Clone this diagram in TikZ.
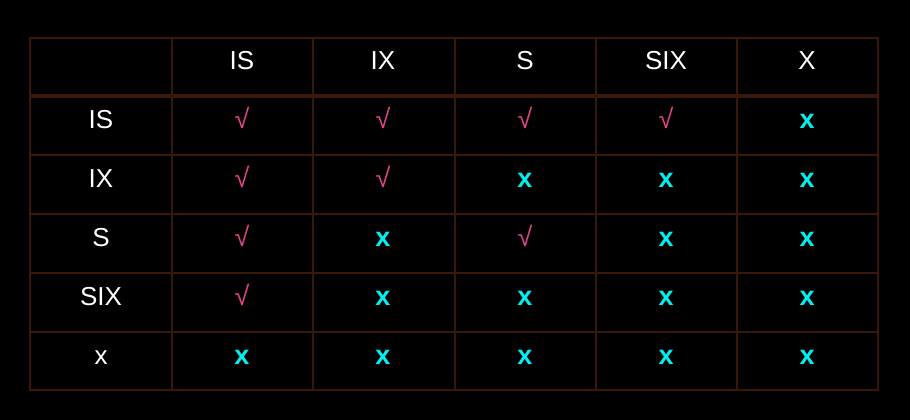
\documentclass[tikz,border=0pt]{standalone}
\usepackage{fontspec}
\setmainfont{Liberation Sans}
\begin{document}
\begin{tikzpicture}[x=1pt,y=-1pt,
  grid/.style={draw=gridc,line width=1.6pt},
  hdr/.style={text=white,font=\fontsize{26}{28}\selectfont,anchor=base,inner sep=0},
  yes/.style={text=chk,font=\fontsize{27}{29}\selectfont,anchor=base,inner sep=0},
  no/.style={text=cyan,font=\bfseries\fontsize{27}{29}\selectfont,anchor=base,inner sep=0}]
\definecolor{gridc}{HTML}{3A1808}
\definecolor{chk}{HTML}{E0458C}
\definecolor{cyan}{HTML}{00F0F0}
\fill[black] (0,0) rectangle (910,420);
\useasboundingbox (0,0) rectangle (910,420);
% grid
\foreach \x in {172,313,455,596,737} \draw[grid] (\x,38) -- (\x,390);
\foreach \y in {155,214,273,332} \draw[grid] (30,\y) -- (878,\y);
\draw[draw=gridc,line width=4pt] (30,96) -- (878,96);
\draw[grid] (30,38) rectangle (878,390);
% headers
\node[hdr] (h1) at (242,69.5) {IS};
\node[hdr] (h2) at (383,69.5) {IX};
\node[hdr] (h3) at (525,69.5) {S};
\node[hdr] (h4) at (666,69.5) {SIX};
\node[hdr] (h5) at (807,69.5) {X};
\node[hdr] (r1) at (101,128.5) {IS};
\node[hdr] (r2) at (101,187.5) {IX};
\node[hdr] (r3) at (101,246.5) {S};
\node[hdr] (r4) at (101,305.5) {SIX};
\node[hdr] (r5) at (101,364.5) {x};
% cells
\def\ys{{0,128.5,187.5,246.5,305.5,364.5}}
\def\cx{{0,242,383,525,666,807}}
\newcommand\Y[2]{\node[yes] (c#1#2) at ({\cx[#2]},{\ys[#1]}) {√};}
\newcommand\N[2]{\node[no] (c#1#2) at ({\cx[#2]},{\ys[#1]}) {x};}
\Y11 \Y12 \Y13 \Y14 \N15
\Y21 \Y22 \N23 \N24 \N25
\Y31 \N32 \Y33 \N34 \N35
\Y41 \N42 \N43 \N44 \N45
\N51 \N52 \N53 \N54 \N55
\end{tikzpicture}
\end{document}
